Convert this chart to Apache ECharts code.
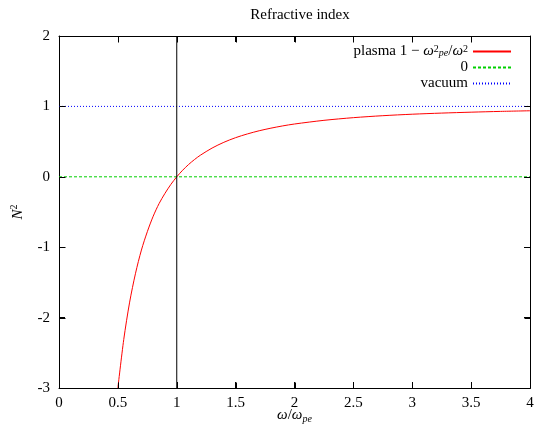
<!DOCTYPE html>
<html>
<head>
<meta charset="utf-8">
<script src="https://cdn.jsdelivr.net/npm/echarts@6/dist/echarts.min.js"></script>
<style>
  html, body { margin: 0; padding: 0; background: #fff; }
  #main { width: 535px; height: 430px; }
</style>
</head>
<body>
<div id="main"></div>
<script>
// values
var plasmaX = [0.5, 0.55, 0.6, 0.65, 0.7, 0.75, 0.8, 0.85, 0.9, 0.95, 1.0, 1.05, 1.1, 1.15, 1.2, 1.3, 1.4, 1.5, 1.6, 1.7, 1.8, 1.9, 2.0, 2.25, 2.5, 2.75, 3.0, 3.25, 3.5, 3.75, 4.0];
var plasmaY = [-3.0, -2.31, -1.78, -1.37, -1.04, -0.78, -0.56, -0.38, -0.235, -0.108, 0.0, 0.093, 0.174, 0.244, 0.306, 0.408, 0.49, 0.556, 0.609, 0.654, 0.691, 0.723, 0.75, 0.802, 0.84, 0.868, 0.889, 0.905, 0.918, 0.929, 0.938];
var zeroLine = [[0, 0], [4, 0]];
var vacuumLine = [[0, 1], [4, 1]];
var cutoffLine = [[1, -3], [1, 2]];
var xTicks = [0, 0.5, 1, 1.5, 2, 2.5, 3, 3.5, 4];
var yTicks = [-3, -2, -1, 0, 1, 2];

var font = 'Liberation Serif';
var plasmaData = plasmaX.map(function (x, i) { return [x, plasmaY[i]]; });
var xMin = xTicks[0], xMax = xTicks[xTicks.length - 1];
var yMin = yTicks[0], yMax = yTicks[yTicks.length - 1];

var chart = echarts.init(document.getElementById('main'));

function axis(extra) {
  var base = {
    type: 'value',
    axisLine: { show: true, onZero: false, lineStyle: { color: '#000', width: 1 } },
    axisTick: { show: true, inside: true, length: 6, lineStyle: { color: '#000', width: 1 } },
    splitLine: { show: false }
  };
  return Object.assign(base, extra);
}

var labelStyle = { fontFamily: font, fontSize: 15, color: '#000' };

chart.setOption({
  animation: false,
  title: {
    text: 'Refractive index',
    left: 295, top: 3, textAlign: 'center',
    textStyle: { fontFamily: font, fontSize: 15, fontWeight: 'normal', color: '#000' }
  },
  grid: {
    left: 59, right: 5, top: 36, bottom: 42,
    outerBoundsMode: 'none', containLabel: false
  },
  legend: {
    orient: 'vertical',
    right: 18, top: 39,
    align: 'right',
    itemWidth: 38, itemHeight: 14, itemGap: 1,
    itemStyle: { opacity: 0 },
    data: ['plasma', '0', 'vacuum'],
    formatter: function (name) {
      if (name === 'plasma') return '{n|plasma 1 − }{i|ω}{sp|2}{sb|pe}{n|/}{i|ω}{sp|2}';
      return '{n|' + name + '}';
    },
    textStyle: {
      fontFamily: font, fontSize: 15, color: '#000', width: 130, align: 'right',
      rich: {
        n: { fontFamily: font, fontSize: 15, lineHeight: 14, align: 'right' },
        i: { fontFamily: font, fontSize: 15, fontStyle: 'italic', lineHeight: 14, align: 'right' },
        sp: { fontFamily: font, fontSize: 10, lineHeight: 14, verticalAlign: 'top', align: 'right' },
        sb: { fontFamily: font, fontSize: 10, fontStyle: 'italic', lineHeight: 14, verticalAlign: 'bottom', align: 'right' }
      }
    }
  },
  xAxis: [
    axis({
      position: 'bottom', min: xMin, max: xMax, interval: 0.5,
      name: '{i|ω}{n|/}{i|ω}{sb|pe}', nameLocation: 'middle', nameGap: 18,
      nameMoveOverlap: false,
      nameTextStyle: {
        rich: {
          n: { fontFamily: font, fontSize: 15, color: '#000' },
          i: { fontFamily: font, fontSize: 15, fontStyle: 'italic', color: '#000' },
          sb: { fontFamily: font, fontSize: 10, fontStyle: 'italic', color: '#000', verticalAlign: 'bottom', lineHeight: 18 }
        }
      },
      axisLabel: Object.assign({ margin: 8 }, labelStyle)
    }),
    axis({
      position: 'top', min: xMin, max: xMax, interval: 0.5,
      axisLabel: { show: false }
    })
  ],
  yAxis: [
    axis({
      position: 'left', min: yMin, max: yMax, interval: 1,
      name: '{i|N}{sp|2}', nameLocation: 'middle', nameGap: 32, nameRotate: 90,
      nameMoveOverlap: false,
      nameTextStyle: {
        rich: {
          i: { fontFamily: font, fontSize: 15, fontStyle: 'italic', color: '#000' },
          sp: { fontFamily: font, fontSize: 10, color: '#000', verticalAlign: 'top', lineHeight: 18 }
        }
      },
      axisLabel: Object.assign({ margin: 9 }, labelStyle)
    }),
    axis({
      position: 'right', min: yMin, max: yMax, interval: 1,
      axisLabel: { show: false }
    })
  ],
  series: [
    {
      name: 'plasma', type: 'line', data: plasmaData, smooth: 0.3, symbol: 'none',
      lineStyle: { color: '#ff0000', width: 1 }, itemStyle: { color: '#ff0000' }
    },
    {
      name: '0', type: 'line', data: zeroLine, symbol: 'none',
      lineStyle: { color: '#00d000', width: 1, type: [3, 2] }, itemStyle: { color: '#00d000' }
    },
    {
      name: 'vacuum', type: 'line', data: vacuumLine, symbol: 'none',
      lineStyle: { color: '#0000ff', width: 1, type: [1, 2] }, itemStyle: { color: '#0000ff' }
    },
    {
      name: 'cutoff', type: 'line', data: cutoffLine, symbol: 'none',
      lineStyle: { color: '#000', width: 1 }, silent: true
    }
  ]
});

// inward tick marks on all four sides, positioned through the axes' scales
var tickLines = [];
function addTick(pt, dx, dy) {
  var p = chart.convertToPixel({ gridIndex: 0 }, pt);
  var x = Math.round(p[0]) + 0.5, y = Math.round(p[1]) + 0.5;
  tickLines.push({
    type: 'line', z: 100, silent: true,
    shape: { x1: x, y1: y, x2: x + dx, y2: y + dy },
    style: { stroke: '#000', lineWidth: 1 }
  });
}
xTicks.forEach(function (x) {
  addTick([x, yMin], 0, -6);
  addTick([x, yMax], 0, 6);
});
yTicks.forEach(function (y) {
  addTick([xMin, y], 6, 0);
  addTick([xMax, y], -6, 0);
});
chart.setOption({ graphic: { elements: tickLines } });
</script>
</body>
</html>
